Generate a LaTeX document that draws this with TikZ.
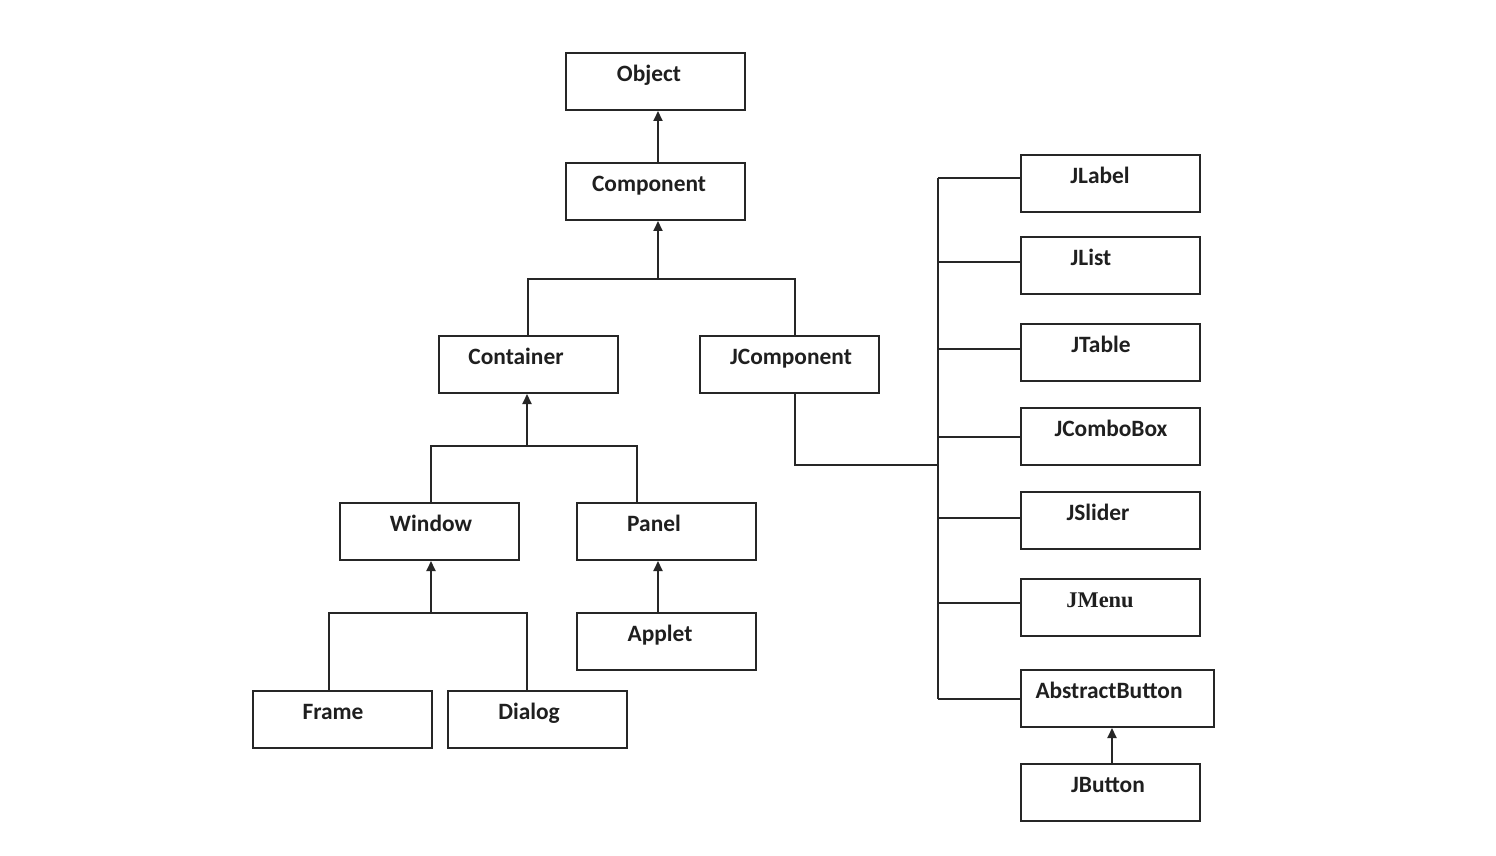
\documentclass[tikz,border=0pt]{standalone}
\usepackage{fontspec}
\setmainfont{Carlito}
\newfontfamily\jmenufont{Liberation Serif}
\usetikzlibrary{arrows.meta}
\begin{document}
\begin{tikzpicture}[x=0.5pt,y=-0.5pt,
  box/.style={draw=black!85, line width=1pt, rectangle, inner sep=0pt,
              minimum width=89.5pt, minimum height=28.5pt},
  lbl/.style={anchor=base, inner sep=0pt,
              font=\fontsize{11.7pt}{14pt}\selectfont\bfseries, text=black!88},
  link/.style={draw=black!85, line width=1pt},
  inh/.style={link, -{Triangle[length=5pt,width=4.5pt]}}]
\useasboundingbox[fill=white] (0,0) rectangle (1496,856);

% boxes
\node[box] (obj)   at (655.5,81.5)  {};
\node[box] (comp)  at (655.5,191.5) {};
\node[box] (cont)  at (528,364.5)   {};
\node[box] (jcomp) at (789.5,364.5) {};
\node[box] (win)   at (429,531.5)   {};
\node[box] (pan)   at (666.5,531.5) {};
\node[box] (app)   at (666.5,641.5) {};
\node[box] (frm)   at (342.5,719.5) {};
\node[box] (dlg)   at (537.5,719.5) {};
\node[box] (jlab)  at (1110.5,183.5) {};
\node[box] (jlist) at (1110.5,265.5) {};
\node[box] (jtab)  at (1110.5,352)   {};
\node[box] (jcb)   at (1110.5,436.5) {};
\node[box] (jsl)   at (1110.5,520.5) {};
\node[box] (jmenu) at (1110.5,607)   {};
\node[box, minimum width=96.5pt] (ab) at (1117.5,698.5) {};
\node[box] (jbtn)  at (1110.5,792.5) {};

% labels
\node[lbl] (tobj)   at (649,81.5)   {Object};
\node[lbl] (tcomp)  at (649,191.5)  {Component};
\node[lbl] (tcont)  at (516,364.5)  {Container};
\node[lbl] (tjcomp) at (791,364.5)  {JComponent};
\node[lbl] (twin)   at (431,531.5)  {Window};
\node[lbl] (tpan)   at (654,531.5)  {Panel};
\node[lbl] (tapp)   at (660,641.5)  {Applet};
\node[lbl] (tfrm)   at (333,719.5)  {Frame};
\node[lbl] (tdlg)   at (529,719.5)  {Dialog};
\node[lbl] (tjlab)  at (1100,183.5) {JLabel};
\node[lbl] (tjlist) at (1091,265.5) {JList};
\node[lbl] (tjtab)  at (1101,352)   {JTable};
\node[lbl] (tjcb)   at (1111,436.5) {JComboBox};
\node[lbl] (tjsl)   at (1098,520.5) {JSlider};
\node[lbl, font=\jmenufont\fontsize{11.2pt}{14pt}\selectfont\bfseries] (tjmenu) at (1100,607) {JMenu};
\node[lbl] (tab)    at (1109,698.5) {AbstractButton};
\node[lbl] (tjbtn)  at (1108,792.5) {JButton};

% junctions
\coordinate (j1) at (658,279);
\coordinate (j2) at (527,446);
\coordinate (j3) at (431,613);
\coordinate (bus) at (938,465);

% connectors
\draw[inh] (j1 |- comp.north) -- (j1 |- obj.south);
\draw[inh] (j1) -- (j1 |- comp.south);
\draw[link] (cont.north) |- (j1);
\draw[link] ([xshift=2.75pt]jcomp.north) |- (j1);

\draw[inh] (j2) -- (j2 |- cont.south);
\draw[link] (j3 |- win.north) |- (j2);
\draw[link] ([xshift=-14.75pt]pan.north) |- (j2);

\draw[inh] (j3) -- (j3 |- win.south);
\draw[link] ([xshift=-6.75pt]frm.north) |- (j3);
\draw[link] ([xshift=-5.25pt]dlg.north) |- (j3);

\draw[inh] ([xshift=-4.25pt]app.north) -- ([xshift=-4.25pt]pan.south);

\draw[link] ([xshift=2.75pt]jcomp.south) |- (bus);
\draw[link] ([yshift=2.75pt]jlab.west -| bus) -- (ab.west -| bus);
\draw[link] ([yshift=2.75pt]jlab.west) -- ([yshift=2.75pt]jlab.west -| bus);
\draw[link] ([yshift=1.75pt]jlist.west) -- ([yshift=1.75pt]jlist.west -| bus);
\draw[link] ([yshift=1.5pt]jtab.west) -- ([yshift=1.5pt]jtab.west -| bus);
\draw[link] (jcb.west) -- (jcb.west -| bus);
\draw[link] ([yshift=1.25pt]jsl.west) -- ([yshift=1.25pt]jsl.west -| bus);
\draw[link] ([yshift=2pt]jmenu.west) -- ([yshift=2pt]jmenu.west -| bus);
\draw[link] (ab.west) -- (ab.west -| bus);

\draw[inh] ([xshift=0.75pt]jbtn.north) -- ([xshift=0.75pt]jbtn.north |- ab.south);
\end{tikzpicture}
\end{document}
